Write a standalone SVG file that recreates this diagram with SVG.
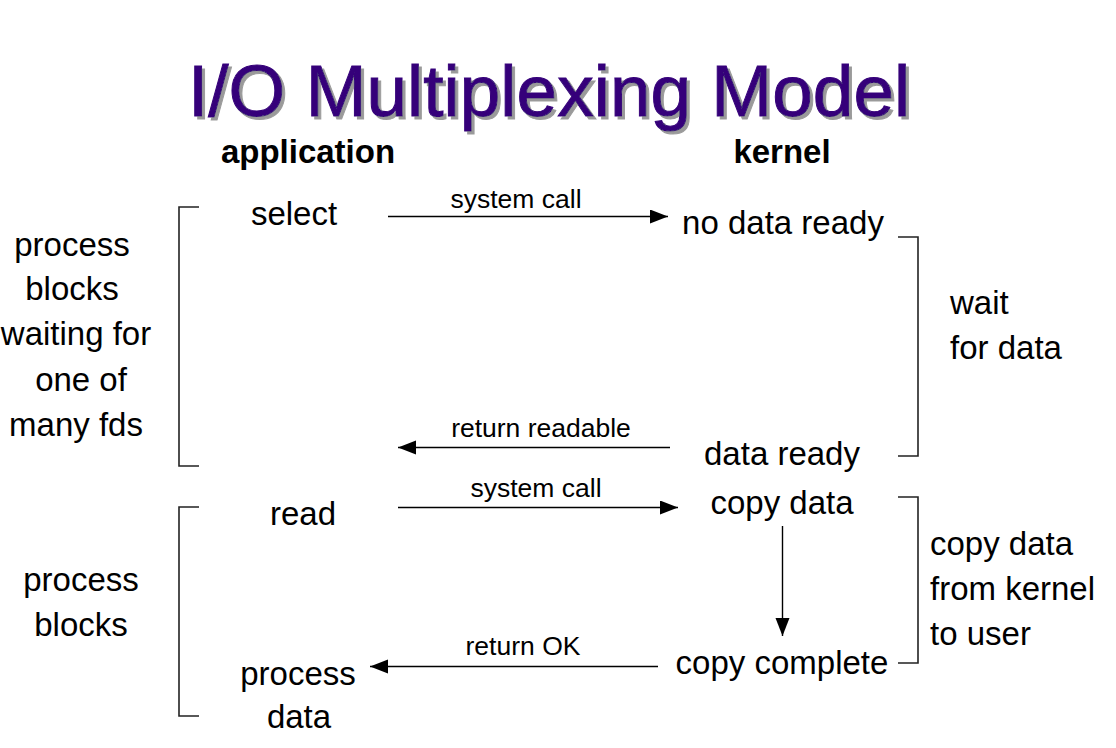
<svg xmlns="http://www.w3.org/2000/svg" width="1116" height="748" viewBox="0 0 1116 748">
  <style>
    .title { font-family: "Liberation Sans", Arial, sans-serif; font-size: 73px; fill: #36007a; stroke: #36007a; stroke-width: 1; filter: url(#shadow); }
    .head { font-family: "Liberation Sans", Arial, sans-serif; font-size: 33px; font-weight: bold; fill: #000; text-anchor: middle; }
    .t { font-family: "Liberation Sans", Arial, sans-serif; font-size: 33px; fill: #000; }
    .c { text-anchor: middle; }
    .lbl { font-family: "Liberation Sans", Arial, sans-serif; font-size: 26.5px; fill: #000; text-anchor: middle; }
    .arrow { stroke: #000; stroke-width: 1.4; fill: none; marker-end: url(#head); }
    .bracket { stroke: #222; stroke-width: 1.6; fill: none; }
  </style>
  <defs>
    <marker id="head" markerUnits="userSpaceOnUse" markerWidth="19" markerHeight="15" refX="18" refY="7" orient="auto">
      <path d="M0,0 L18,7 L0,14 z" fill="#000"/>
    </marker>
    <!-- grey offset shadow behind the title -->
    <filter id="shadow" x="-5%" y="-20%" width="110%" height="140%">
      <feOffset in="SourceAlpha" dx="3" dy="3" result="off"/>
      <feFlood flood-color="#9a9a9a"/>
      <feComposite in2="off" operator="in" result="sh"/>
      <feMerge>
        <feMergeNode in="sh"/>
        <feMergeNode in="SourceGraphic"/>
      </feMerge>
    </filter>
  </defs>
  <rect width="1116" height="748" fill="#fff"/>

  <!-- title -->
  <g id="title">
    <text class="title" x="188" y="116">I/O Multiplexing Model</text>
  </g>

  <!-- column headings -->
  <g id="headings">
    <text class="head" x="308" y="163">application</text>
    <text class="head" x="782" y="163">kernel</text>
  </g>

  <!-- application side -->
  <g id="app-select"><text class="t c" x="294" y="225">select</text></g>
  <g id="app-read"><text class="t c" x="303" y="525">read</text></g>
  <g id="app-process">
    <text class="t c" x="298" y="685">process</text>
    <text class="t c" x="299" y="728">data</text>
  </g>

  <!-- kernel side -->
  <g id="k-nodata"><text class="t c" x="783" y="234">no data ready</text></g>
  <g id="k-ready"><text class="t c" x="782" y="465">data ready</text></g>
  <g id="k-copy"><text class="t c" x="782" y="514">copy data</text></g>
  <g id="k-complete"><text class="t c" x="782" y="674">copy complete</text></g>

  <!-- phase annotations -->
  <g id="note-select">
    <text class="t c" x="72" y="256">process</text>
    <text class="t c" x="72" y="300">blocks</text>
    <text class="t c" x="76" y="345">waiting for</text>
    <text class="t c" x="81" y="391">one of</text>
    <text class="t c" x="76" y="436">many fds</text>
  </g>
  <g id="note-read">
    <text class="t c" x="81" y="591">process</text>
    <text class="t c" x="81" y="636">blocks</text>
  </g>
  <g id="note-wait">
    <text class="t" x="950" y="314">wait</text>
    <text class="t" x="950" y="359">for data</text>
  </g>
  <g id="note-copy">
    <text class="t" x="930" y="555">copy data</text>
    <text class="t" x="930" y="600">from kernel</text>
    <text class="t" x="930" y="645">to user</text>
  </g>

  <!-- brackets -->
  <g id="brackets">
    <path class="bracket" d="M199,207 H179 V466 H199"/>
    <path class="bracket" d="M199,507 H179 V716 H199"/>
    <path class="bracket" d="M898,237 H918 V456 H898"/>
    <path class="bracket" d="M898,497 H918 V663 H898"/>
  </g>

  <!-- connectors -->
  <g id="connectors">
    <line class="arrow" x1="388" y1="216.5" x2="668" y2="216.5"/>
    <text class="lbl" x="516" y="208">system call</text>
    <line class="arrow" x1="670" y1="447.5" x2="398" y2="447.5"/>
    <text class="lbl" x="541" y="437">return readable</text>
    <line class="arrow" x1="398" y1="507.5" x2="678" y2="507.5"/>
    <text class="lbl" x="536" y="497">system call</text>
    <line class="arrow" x1="782.5" y1="526" x2="782.5" y2="636"/>
    <line class="arrow" x1="658" y1="666.5" x2="370" y2="666.5"/>
    <text class="lbl" x="523" y="655">return OK</text>
  </g>
</svg>
